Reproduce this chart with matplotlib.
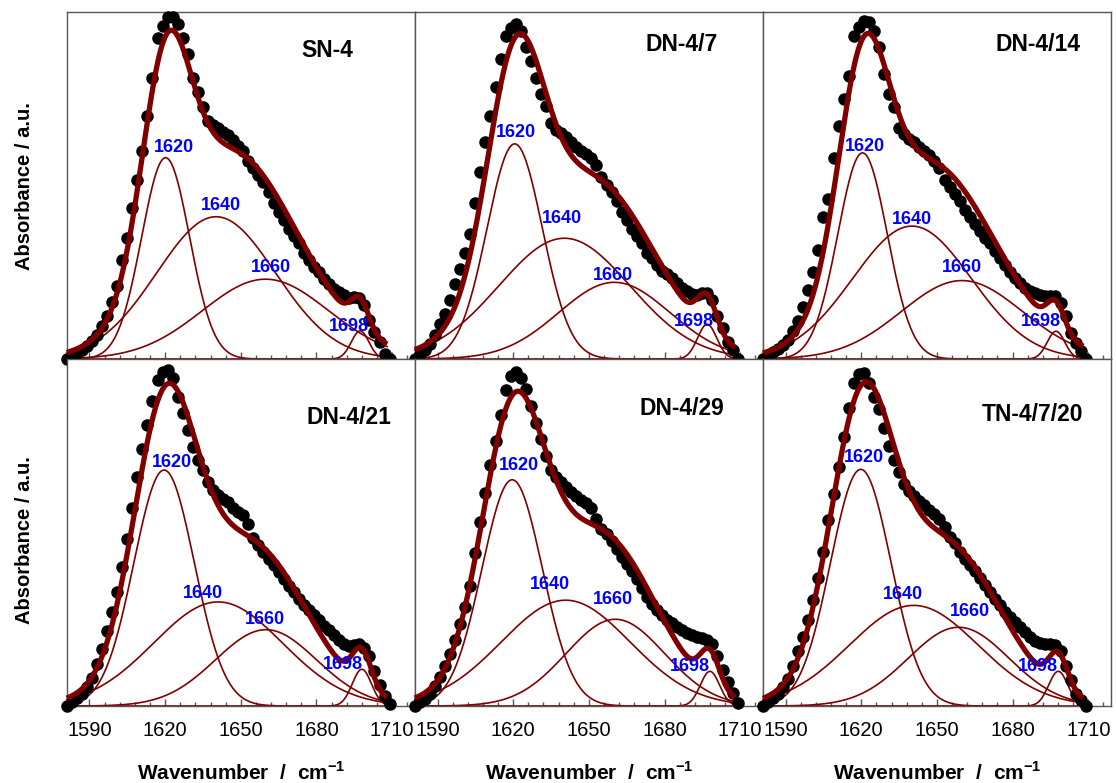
import numpy as np
import matplotlib
matplotlib.use("Agg")
import matplotlib.pyplot as plt
from matplotlib.ticker import MultipleLocator, NullLocator

plt.rcParams['font.family'] = ['Liberation Sans', 'DejaVu Sans']
plt.rcParams['mathtext.fontset'] = 'custom'
plt.rcParams['mathtext.rm'] = 'Liberation Sans'
plt.rcParams['mathtext.bf'] = 'Liberation Sans:bold'

# ---------------- data ----------------
wavenumber = list(range(1581, 1710, 2))          # sample positions of the measured points (cm-1)

panel_titles = ["SN-4", "DN-4/7", "DN-4/14", "DN-4/21", "DN-4/29", "TN-4/7/20"]
band_labels = ["1620", "1640", "1660", "1698"]
x_ticks = [1590, 1620, 1650, 1680, 1710]

abs_sn4 = [0.0, 0.008, 0.016, 0.025, 0.038, 0.052, 0.07, 0.095, 0.125, 0.163,
           0.21, 0.285, 0.35, 0.435, 0.515, 0.60, 0.70, 0.81, 0.925, 0.96,
           0.985, 0.985, 0.965, 0.925, 0.88, 0.81, 0.77, 0.725, 0.685, 0.675,
           0.665, 0.655, 0.645, 0.63, 0.615, 0.60, 0.57, 0.55, 0.53, 0.51,
           0.48, 0.45, 0.425, 0.40, 0.375, 0.355, 0.335, 0.305, 0.285, 0.265,
           0.25, 0.23, 0.215, 0.203, 0.193, 0.185, 0.177, 0.18, 0.176, 0.155,
           0.112, 0.078, 0.048, 0.015, 0.0]
abs_dn4_7 = [0.0, 0.014, 0.026, 0.042, 0.07, 0.10, 0.13, 0.17, 0.215, 0.26,
             0.305, 0.36, 0.45, 0.54, 0.625, 0.70, 0.785, 0.865, 0.93, 0.955,
             0.965, 0.945, 0.90, 0.86, 0.81, 0.765, 0.73, 0.68, 0.66, 0.65,
             0.64, 0.625, 0.612, 0.60, 0.59, 0.58, 0.56, 0.525, 0.50, 0.48,
             0.455, 0.425, 0.40, 0.375, 0.355, 0.335, 0.305, 0.29, 0.27, 0.255,
             0.245, 0.232, 0.218, 0.205, 0.195, 0.188, 0.183, 0.19, 0.19, 0.17,
             0.125, 0.09, 0.05, 0.025, 0.0]
abs_dn4_14 = [0.0, 0.012, 0.02, 0.028, 0.04, 0.055, 0.08, 0.11, 0.15, 0.2,
              0.25, 0.315, 0.41, 0.46, 0.58, 0.67, 0.75, 0.815, 0.93, 0.958,
              0.975, 0.97, 0.945, 0.9, 0.82, 0.765, 0.725, 0.665, 0.648, 0.635,
              0.625, 0.61, 0.6, 0.588, 0.57, 0.55, 0.515, 0.495, 0.475, 0.455,
              0.43, 0.41, 0.39, 0.37, 0.35, 0.333, 0.31, 0.29, 0.27, 0.25,
              0.232, 0.218, 0.205, 0.197, 0.19, 0.185, 0.182, 0.182, 0.181, 0.162,
              0.125, 0.075, 0.045, 0.022, 0.0]
abs_dn4_21 = [0.0, 0.013, 0.022, 0.034, 0.055, 0.082, 0.12, 0.165, 0.215, 0.27,
              0.33, 0.40, 0.48, 0.57, 0.66, 0.74, 0.81, 0.88, 0.94, 0.962,
              0.968, 0.945, 0.89, 0.845, 0.795, 0.745, 0.71, 0.68, 0.645, 0.622,
              0.607, 0.597, 0.587, 0.572, 0.56, 0.55, 0.525, 0.485, 0.465, 0.445,
              0.425, 0.405, 0.385, 0.366, 0.347, 0.328, 0.308, 0.292, 0.277, 0.262,
              0.247, 0.232, 0.218, 0.204, 0.19, 0.178, 0.172, 0.177, 0.178, 0.168,
              0.145, 0.1, 0.06, 0.03, 0.005]
abs_dn4_29 = [0.0, 0.011, 0.02, 0.035, 0.057, 0.085, 0.115, 0.15, 0.19, 0.235,
              0.285, 0.345, 0.44, 0.53, 0.615, 0.695, 0.765, 0.84, 0.91, 0.952,
              0.963, 0.945, 0.915, 0.865, 0.815, 0.77, 0.72, 0.68, 0.66, 0.645,
              0.632, 0.618, 0.605, 0.594, 0.584, 0.57, 0.54, 0.51, 0.495, 0.475,
              0.453, 0.43, 0.41, 0.39, 0.365, 0.34, 0.315, 0.295, 0.278, 0.262,
              0.248, 0.238, 0.229, 0.22, 0.21, 0.204, 0.2, 0.197, 0.19, 0.178,
              0.145, 0.105, 0.068, 0.038, 0.01]
abs_tn4_7_20 = [0.0, 0.011, 0.022, 0.036, 0.054, 0.078, 0.115, 0.158, 0.2, 0.248,
                0.305, 0.37, 0.445, 0.535, 0.61, 0.69, 0.775, 0.86, 0.93, 0.958,
                0.96, 0.93, 0.89, 0.855, 0.80, 0.75, 0.71, 0.675, 0.64, 0.62,
                0.605, 0.59, 0.578, 0.565, 0.553, 0.54, 0.515, 0.488, 0.47, 0.445,
                0.423, 0.405, 0.388, 0.368, 0.348, 0.328, 0.308, 0.29, 0.27, 0.256,
                0.242, 0.227, 0.212, 0.198, 0.187, 0.181, 0.179, 0.179, 0.175, 0.158,
                0.115, 0.075, 0.035, 0.018, 0.0]

# Gaussian band parameters of the curve fit: centre (cm-1), height, sigma (cm-1)
centres_sn4 = [1620.2, 1640.2, 1659.8, 1697.3]
heights_sn4 = [0.58, 0.41, 0.23, 0.081]
sigmas_sn4 = [9.5, 23.5, 25.0, 3.5]
centres_dn4_7 = [1620.6, 1640.3, 1660.1, 1696.9]
heights_dn4_7 = [0.62, 0.348, 0.221, 0.10]
sigmas_dn4_7 = [11.0, 26.0, 22.0, 3.8]
centres_dn4_14 = [1620.5, 1640.1, 1659.9, 1697.2]
heights_dn4_14 = [0.594, 0.383, 0.226, 0.08]
sigmas_dn4_14 = [9.8, 23.5, 24.0, 3.5]
centres_dn4_21 = [1619.6, 1641.0, 1660.0, 1698.0]
heights_dn4_21 = [0.68, 0.30, 0.22, 0.106]
sigmas_dn4_21 = [12.0, 25.5, 20.0, 3.8]
centres_dn4_29 = [1619.6, 1640.8, 1660.5, 1698.0]
heights_dn4_29 = [0.652, 0.305, 0.25, 0.10]
sigmas_dn4_29 = [12.0, 25.5, 19.5, 3.8]
centres_tn4_7_20 = [1619.8, 1640.8, 1658.6, 1698.1]
heights_tn4_7_20 = [0.682, 0.29, 0.227, 0.10]
sigmas_tn4_7_20 = [12.0, 25.5, 20.0, 3.8]

panel_abs = [abs_sn4, abs_dn4_7, abs_dn4_14, abs_dn4_21, abs_dn4_29, abs_tn4_7_20]
panel_centres = [centres_sn4, centres_dn4_7, centres_dn4_14,
                 centres_dn4_21, centres_dn4_29, centres_tn4_7_20]
panel_heights = [heights_sn4, heights_dn4_7, heights_dn4_14,
                 heights_dn4_21, heights_dn4_29, heights_tn4_7_20]
panel_sigmas = [sigmas_sn4, sigmas_dn4_7, sigmas_dn4_14,
                sigmas_dn4_21, sigmas_dn4_29, sigmas_tn4_7_20]

# ---------------- layout / style (not data) ----------------
label_dx = [[3.2, 2.1, 2.2, -4.3], [0.6, -1.0, -0.7, -5.3], [0.9, -0.2, 0.0, -6.0],
            [3.0, -6.0, -0.5, -7.5], [2.8, -6.3, -1.0, -8.0], [1.2, -4.2, 4.5, -8.0]]
label_dy = [[0.016, 0.02, 0.02, 0.0], [0.02, 0.044, 0.007, -0.004], [0.004, 0.007, 0.024, 0.016],
            [0.01, 0.01, 0.016, 0.0], [0.027, 0.031, 0.044, 0.0], [0.02, 0.018, 0.032, 0.0]]
title_pos = [(0.748, 0.89), (0.767, 0.905), (0.79, 0.905),
             (0.81, 0.83), (0.766, 0.856), (0.775, 0.84)]

RED = '#800000'
SPINE = '#555555'

fig = plt.figure(figsize=(11.16, 7.83), dpi=100)
gs = fig.add_gridspec(2, 3, left=0.0598, right=0.9955, top=0.9847, bottom=0.0983,
                      wspace=0, hspace=0)

xfine = np.linspace(1581, 1708, 600)

for i in range(6):
    r, c = divmod(i, 3)
    ax = fig.add_subplot(gs[r, c])
    y = panel_abs[i]
    assert len(y) == len(wavenumber)

    total = np.zeros_like(xfine)
    for cen, h, s in zip(panel_centres[i], panel_heights[i], panel_sigmas[i]):
        comp = h * np.exp(-(xfine - cen) ** 2 / (2 * s ** 2))
        total += comp
        ax.plot(xfine, comp, color=RED, lw=1.2, zorder=2, clip_on=False)

    ax.plot(wavenumber, y, 'o', color='black', ms=8, zorder=3, clip_on=False)
    ax.plot(xfine, total, color=RED, lw=3.8, zorder=4, clip_on=False,
            solid_capstyle='butt')

    for k, lab in enumerate(band_labels):
        ax.text(panel_centres[i][k] + label_dx[i][k],
                panel_heights[i][k] + label_dy[i][k], lab,
                color='#0000ff', fontsize=13, fontweight='bold',
                ha='center', va='baseline', zorder=5)

    tx, ty = title_pos[i]
    ax.text(tx, ty, panel_titles[i], transform=ax.transAxes, fontsize=16.5,
            fontweight='bold', ha='center', va='center', color='black')

    ax.set_xlim(1581, 1719)
    ax.set_ylim(0, 1.0)
    ax.xaxis.set_major_locator(MultipleLocator(30))
    ax.xaxis.set_minor_locator(MultipleLocator(6))
    ax.yaxis.set_major_locator(NullLocator())
    ax.yaxis.set_minor_locator(NullLocator())
    ax.tick_params(axis='x', which='major', direction='in', length=5, width=1,
                   color=SPINE, labelsize=14.5, pad=11)
    ax.tick_params(axis='x', which='minor', direction='in', length=3.2, width=1,
                   color=SPINE)
    if r == 0:
        ax.tick_params(axis='x', labelbottom=False)
    else:
        ax.set_xticks(x_ticks)
        ax.set_xticklabels([str(t) for t in x_ticks])
    for sp in ax.spines.values():
        sp.set_color(SPINE)
        sp.set_linewidth(1.0)

# axis titles
for yc in (186, 540):
    fig.text(25 / 1116, 1 - yc / 783, "Absorbance / a.u.", rotation=90,
             ha='center', va='center', fontsize=14.5, fontweight='bold')
for xc in (241, 589, 937):
    fig.text(xc / 1116, 1 - 773 / 783, r"Wavenumber  /  cm$^{\mathbf{-1}}$",
             ha='center', va='center', fontsize=15, fontweight='bold')

fig.savefig("out.png", dpi=100)
